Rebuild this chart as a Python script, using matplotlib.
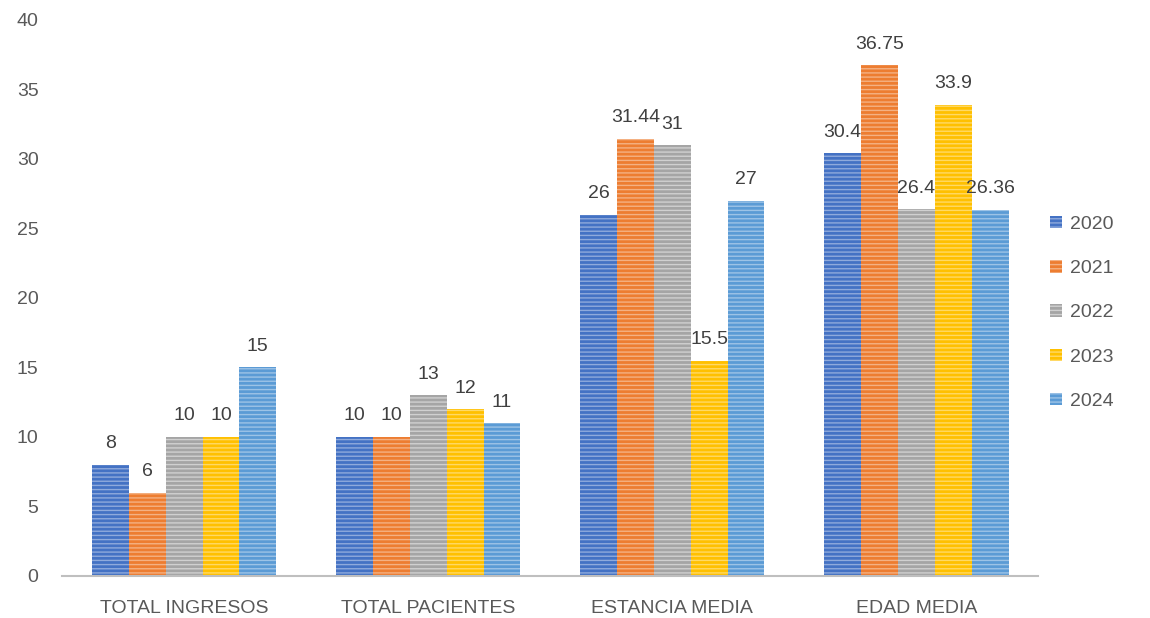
import matplotlib.pyplot as plt
import numpy as np

categories = ["TOTAL INGRESOS", "TOTAL PACIENTES", "ESTANCIA MEDIA", "EDAD MEDIA"]
years = ["2020", "2021", "2022", "2023", "2024"]
values = {
    "2020": [8, 10, 26, 30.4],
    "2021": [6, 10, 31.44, 36.75],
    "2022": [10, 13, 31, 26.4],
    "2023": [10, 12, 15.5, 33.9],
    "2024": [15, 11, 27, 26.36],
}
colors = ["#4472C4", "#ED7D31", "#A5A5A5", "#FFC000", "#5B9BD5"]
stripes = ["#8FAADC", "#F4B183", "#D0D0D0", "#FFD966", "#9DC3E6"]

plt.rcParams['font.family'] = ['Liberation Sans', 'DejaVu Sans']
plt.rcParams['hatch.linewidth'] = 1.0

fig = plt.figure(figsize=(11.5, 6.18), dpi=100)
ax = fig.add_axes([0.054, 0.068, 0.849, 0.8997])

x = np.arange(len(categories))
w = 0.151
for i, yr in enumerate(years):
    pos = x + (i - 2) * w
    bars = ax.bar(pos, values[yr], w, color=colors[i], edgecolor=stripes[i],
                  linewidth=0, hatch='----', label=yr)
    for b, v in zip(bars, values[yr]):
        ax.annotate(f"{v:g}", (b.get_x() + b.get_width() / 2, v),
                    xytext=(0, 9), textcoords='offset points',
                    ha='center', va='bottom', fontsize=14, color='#404040')

ax.set_xlim(-0.5, len(categories) - 0.5)
ax.set_ylim(0, 40)
ax.set_yticks(range(0, 41, 5))
ax.set_xticks(x)
ax.set_xticklabels(categories)
ax.tick_params(axis='both', length=0, labelsize=14, colors='#595959')
ax.tick_params(axis='y', pad=17)
ax.tick_params(axis='x', pad=17)
for s in ['top', 'right', 'left']:
    ax.spines[s].set_visible(False)
ax.spines['bottom'].set_color('#BFBFBF')
ax.spines['bottom'].set_linewidth(1.5)

leg = ax.legend(loc='center left', bbox_to_anchor=(1.0, 0.473), frameon=False,
                fontsize=14, labelspacing=1.4, handlelength=0.6,
                handleheight=0.6, handletextpad=0.4, borderaxespad=0.2,
                labelcolor='#595959')

fig.savefig("out.png", dpi=100)
